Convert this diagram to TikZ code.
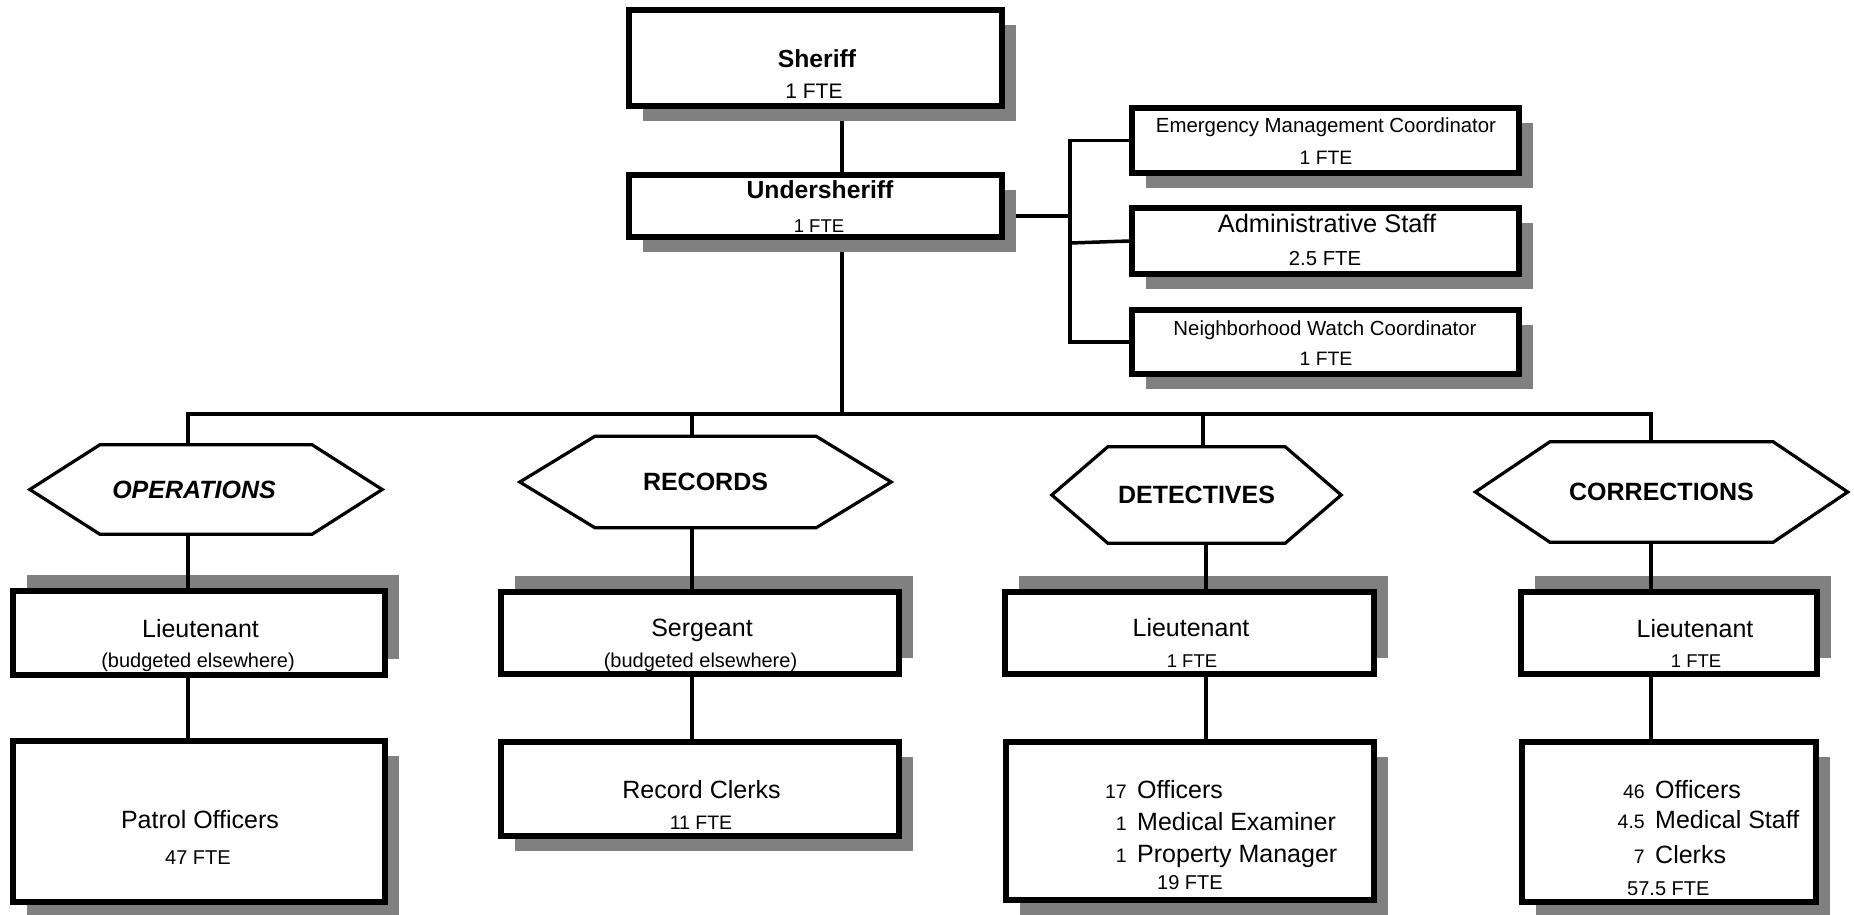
\documentclass[tikz,border=0pt]{standalone}
\usepackage{fontspec}
\setmainfont{Liberation Sans}
\usetikzlibrary{shadows,backgrounds}
\definecolor{shadowgray}{RGB}{128,128,128}
\newcommand{\fsz}[1]{\fontsize{#1pt}{#1pt}\selectfont}
\begin{document}
\begin{tikzpicture}[x=1pt,y=-1pt,
  box/.style={draw=black, fill=white, line width=6pt, rectangle, inner sep=0pt, line join=miter},
  shdn/.style={drop shadow={shadow xshift=14pt, shadow yshift=-15pt, fill=shadowgray, opacity=1}},
  shup/.style={drop shadow={shadow xshift=14pt, shadow yshift=16pt, fill=shadowgray, opacity=1}},
  hexnode/.style={inner sep=0pt, font=\fsz{25}\bfseries},
  hexline/.style={draw=black, line width=3.2pt, line join=miter},
  tx/.style={inner sep=0pt, anchor=base},
  conn/.style={draw=black, line width=3.5pt},
]
\begin{scope}[on background layer]
\fill[white] (0,0) rectangle (1854,914);
\end{scope}
\useasboundingbox (0,0) rectangle (1854,914);

% ---------- boxes ----------
\node[box, shdn, minimum width=373pt, minimum height=96pt] (sheriff) at (815.5,58) {};
\node[box, shdn, minimum width=373pt, minimum height=62pt] (us) at (815.5,206) {};
\node[box, shdn, minimum width=387pt, minimum height=65pt] (emc) at (1325.5,140.5) {};
\node[box, shdn, minimum width=387pt, minimum height=66pt] (admin) at (1325.5,241) {};
\node[box, shdn, minimum width=387pt, minimum height=64pt] (nwc) at (1325.5,342) {};

\node[box, shup, minimum width=372pt, minimum height=84pt] (opslt) at (199,633) {};
\node[box, shup, minimum width=398pt, minimum height=82pt] (sgt) at (700,633) {};
\node[box, shup, minimum width=369pt, minimum height=82pt] (detlt) at (1189.5,633) {};
\node[box, shup, minimum width=296pt, minimum height=82pt] (corlt) at (1669,633) {};

\node[box, shdn, minimum width=372pt, minimum height=161pt] (patrol) at (199,821.5) {};
\node[box, shdn, minimum width=398pt, minimum height=94pt] (clerks) at (700,789) {};
\node[box, shdn, minimum width=368pt, minimum height=158pt] (detbox) at (1190,821) {};
\node[box, shdn, minimum width=294pt, minimum height=160pt] (corbox) at (1669,822) {};

% ---------- hexagons ----------
\node[hexnode, minimum width=212pt, minimum height=89pt] (ops) at (206,489.5) {\itshape OPERATIONS\hspace*{24pt}};
\draw[hexline] (ops.north west) -- (ops.north east) -- ([xshift=70pt]ops.east) -- (ops.south east) -- (ops.south west) -- ([xshift=-70pt]ops.west) -- cycle;
\node[hexnode, minimum width=221pt, minimum height=91pt] (rec) at (705.5,482) {RECORDS};
\draw[hexline] (rec.north west) -- (rec.north east) -- ([xshift=75pt]rec.east) -- (rec.south east) -- (rec.south west) -- ([xshift=-75pt]rec.west) -- cycle;
\node[hexnode, minimum width=177pt, minimum height=96pt] (det) at (1196.5,495) {DETECTIVES};
\draw[hexline] (det.north west) -- (det.north east) -- ([xshift=56pt]det.east) -- (det.south east) -- (det.south west) -- ([xshift=-56pt]det.west) -- cycle;
\node[hexnode, minimum width=223pt, minimum height=100pt] (cor) at (1661.5,492) {CORRECTIONS};
\draw[hexline] (cor.north west) -- (cor.north east) -- ([xshift=74.5pt]cor.east) -- (cor.south east) -- (cor.south west) -- ([xshift=-74.5pt]cor.west) -- cycle;

% ---------- texts ----------
\node[tx, font=\fsz{24.7}\bfseries] (sheriff-t) at (817,67) {Sheriff};
\node[tx, font=\fsz{21}] (sheriff-f) at (814,98) {1 FTE};
\node[tx, font=\fsz{24.7}\bfseries] (us-t) at (820,198) {Undersheriff};
\node[tx, font=\fsz{18.5}] (us-f) at (819,232) {1 FTE};

\node[tx, font=\fsz{20.4}] (emc-t) at (1326,132) {Emergency Management Coordinator};
\node[tx, font=\fsz{19.4}] (emc-f) at (1326,164) {1 FTE};
\node[tx, font=\fsz{25.4}] (admin-t) at (1327,232) {Administrative Staff};
\node[tx, font=\fsz{20.3}] (admin-f) at (1325,265) {2.5 FTE};
\node[tx, font=\fsz{20.4}] (nwc-t) at (1325,335) {Neighborhood Watch Coordinator};
\node[tx, font=\fsz{19.4}] (nwc-f) at (1326,365) {1 FTE};

\node[tx, font=\fsz{25}] (opslt-t) at (200.5,637) {Lieutenant};
\node[tx, font=\fsz{20}] (opslt-f) at (198,667) {(budgeted elsewhere)};
\node[tx, font=\fsz{25}] (sgt-t) at (702,636) {Sergeant};
\node[tx, font=\fsz{20}] (sgt-f) at (700.5,667) {(budgeted elsewhere)};
\node[tx, font=\fsz{25}] (detlt-t) at (1191,636) {Lieutenant};
\node[tx, font=\fsz{18.5}] (detlt-f) at (1192,667) {1 FTE};
\node[tx, font=\fsz{25}] (corlt-t) at (1695,637) {Lieutenant};
\node[tx, font=\fsz{18.5}] (corlt-f) at (1696,667) {1 FTE};

\node[tx, font=\fsz{25}] (patrol-t) at (200,828) {Patrol Officers};
\node[tx, font=\fsz{20}] (patrol-f) at (198,864) {47 FTE};
\node[tx, font=\fsz{25}] (clerks-t) at (701.5,798) {Record Clerks};
\node[tx, font=\fsz{19.5}] (clerks-f) at (701,829) {11 FTE};

\node[tx, anchor=base east, font=\fsz{19.5}] (det-n1) at (1127,798) {17};
\node[tx, anchor=base west, font=\fsz{25}] (det-l1) at (1137,798) {Officers};
\node[tx, anchor=base east, font=\fsz{19.5}] (det-n2) at (1127,830) {1};
\node[tx, anchor=base west, font=\fsz{25}] (det-l2) at (1137,830) {Medical Examiner};
\node[tx, anchor=base east, font=\fsz{19.5}] (det-n3) at (1127,862) {1};
\node[tx, anchor=base west, font=\fsz{25}] (det-l3) at (1137,862) {Property Manager};
\node[tx, anchor=base west, font=\fsz{20}] (det-f) at (1157,889) {19 FTE};

\node[tx, anchor=base east, font=\fsz{19.5}] (cor-n1) at (1645,798) {46};
\node[tx, anchor=base west, font=\fsz{25}] (cor-l1) at (1655,798) {Officers};
\node[tx, anchor=base east, font=\fsz{19.5}] (cor-n2) at (1645,828) {4.5};
\node[tx, anchor=base west, font=\fsz{25}] (cor-l2) at (1655,828) {Medical Staff};
\node[tx, anchor=base east, font=\fsz{19.5}] (cor-n3) at (1645,863) {7};
\node[tx, anchor=base west, font=\fsz{25}] (cor-l3) at (1655,863) {Clerks};
\node[tx, anchor=base west, font=\fsz{20}] (cor-f) at (1627,895) {57.5 FTE};

% ---------- connectors behind the upper boxes ----------
\begin{scope}[on background layer]
\coordinate (spine) at (842,414);
\coordinate (jn) at (1070,216);
\coordinate (ja) at (1070,243);
\draw[conn] (sheriff.south -| spine) -- (us.north -| spine);
\draw[conn] (us.south -| spine) -- (spine);
\draw[conn] (us.east |- jn) -- (jn);
\draw[conn, line join=miter] (emc.west) -- (jn |- emc.west) -- (jn |- nwc.west) -- (nwc.west);
\draw[conn] (ja) -- (admin.west);
\end{scope}

% ---------- lower connectors ----------
\coordinate (b1) at (188,414);
\coordinate (b2) at (692,414);
\coordinate (b3) at (1203,414);
\coordinate (b4) at (1651,414);
\coordinate (c3) at (1206,600);
\draw[conn, line join=miter] (b1 |- ops.north) -- (b1) -- (b4) -- (b4 |- cor.north);
\draw[conn] (b2) -- (b2 |- rec.north);
\draw[conn] (b3) -- (b3 |- det.north);
\draw[conn] (ops.south -| b1) -- (opslt.north -| b1);
\draw[conn] (opslt.south -| b1) -- (patrol.north -| b1);
\draw[conn] (rec.south -| b2) -- (sgt.north -| b2);
\draw[conn] (sgt.south -| b2) -- (clerks.north -| b2);
\draw[conn] (det.south -| c3) -- (detlt.north -| c3);
\draw[conn] (detlt.south -| c3) -- (detbox.north -| c3);
\draw[conn] (cor.south -| b4) -- (corlt.north -| b4);
\draw[conn] (corlt.south -| b4) -- (corbox.north -| b4);
\end{tikzpicture}
\end{document}
